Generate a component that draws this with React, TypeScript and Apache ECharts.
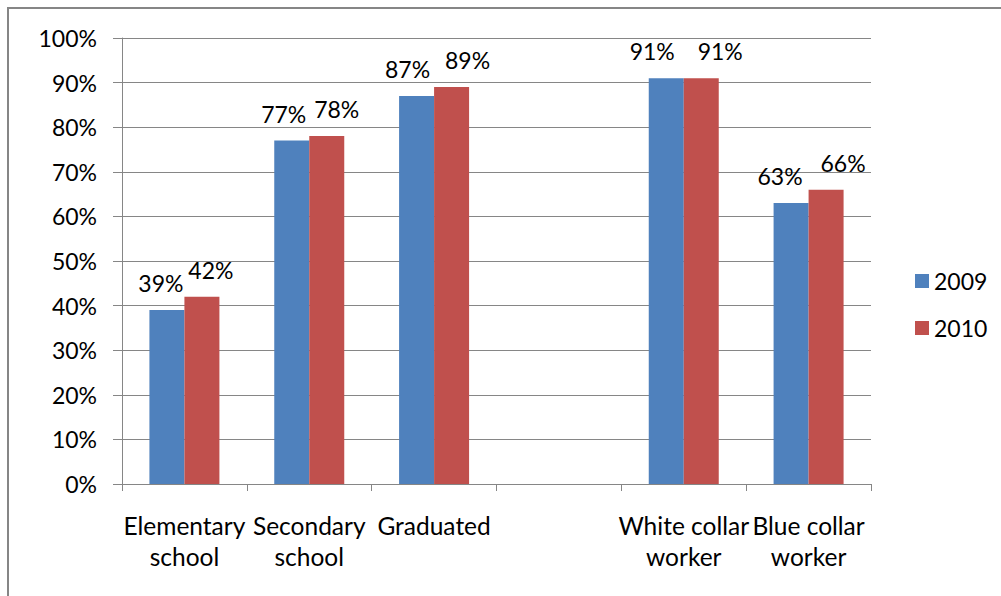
import React, { useEffect, useRef } from "react";
import * as echarts from "echarts";

const categories = [
  "Elementary\nschool",
  "Secondary\nschool",
  "Graduated",
  "",
  "White collar\nworker",
  "Blue collar\nworker",
];
const series2009 = [39, 77, 87, null, 91, 63];
const series2010 = [42, 78, 89, null, 91, 66];
const yTicks = [0, 10, 20, 30, 40, 50, 60, 70, 80, 90, 100];

// horizontal label nudges (styling only)
const shift2009 = [-6, -8, -9, 0, -14, -11];
const shift2010 = [9, 10, 16, 0, 19, 17];

const FONT = "Lato";
const FS = 23;

export default function App() {
  const ref = useRef<HTMLDivElement>(null);
  useEffect(() => {
    if (!ref.current) return;
    const chart = echarts.init(ref.current, undefined, { renderer: "svg" });
    const mk = (vals: (number | null)[], shifts: number[]) =>
      vals.map((v, i) => ({
        value: v,
        label: { offset: [shifts[i], 0] },
      }));
    const labelStyle = {
      show: true,
      position: "top",
      distance: 14,
      color: "#000",
      fontFamily: FONT,
      fontSize: FS,
      lineHeight: 26,
      formatter: "{c}%",
    };
    chart.setOption({
      animation: false,
      backgroundColor: "#ffffff",
      textStyle: { fontFamily: FONT },
      graphic: [
        {
          type: "rect",
          shape: { x: 8, y: 8, width: 1200, height: 800 },
          style: { fill: "none", stroke: "#868686", lineWidth: 2 },
          silent: true,
        },
      ],
      grid: { left: 122, right: 130, top: 38, bottom: 112 },
      legend: {
        orient: "vertical",
        left: 910,
        top: 263,
        itemWidth: 14,
        itemHeight: 14,
        itemGap: 21,
        icon: "rect",
        textStyle: { fontFamily: FONT, fontSize: FS, color: "#000", lineHeight: 26 },
        data: ["2009", "2010"],
      },
      xAxis: {
        type: "category",
        data: categories,
        axisLine: { lineStyle: { color: "#868686", width: 1 } },
        axisTick: { show: true, length: 7, lineStyle: { color: "#868686" } },
        axisLabel: {
          interval: 0,
          margin: 26,
          color: "#000",
          fontFamily: FONT,
          fontSize: 24.5,
          lineHeight: 31,
        },
      },
      yAxis: {
        type: "value",
        min: yTicks[0],
        max: yTicks[yTicks.length - 1],
        interval: 10,
        axisLine: { show: true, lineStyle: { color: "#868686", width: 1 } },
        axisTick: { show: true, length: 9, lineStyle: { color: "#868686" } },
        splitLine: { lineStyle: { color: "#868686", width: 1 } },
        axisLabel: {
          margin: 25,
          color: "#000",
          fontFamily: FONT,
          fontSize: FS,
          formatter: (v: number) => v + "%",
        },
      },
      series: [
        {
          name: "2009",
          type: "bar",
          barWidth: 35,
          barGap: "0%",
          itemStyle: { color: "#4F81BD" },
          label: labelStyle,
          data: mk(series2009, shift2009),
        },
        {
          name: "2010",
          type: "bar",
          barWidth: 35,
          barGap: "0%",
          itemStyle: { color: "#C0504D" },
          label: labelStyle,
          data: mk(series2010, shift2010),
        },
      ],
    });
    return () => chart.dispose();
  }, []);
  return (
    <div
      ref={ref}
      style={{ position: "absolute", left: 0, top: 0, width: 1001, height: 596 }}
    />
  );
}
